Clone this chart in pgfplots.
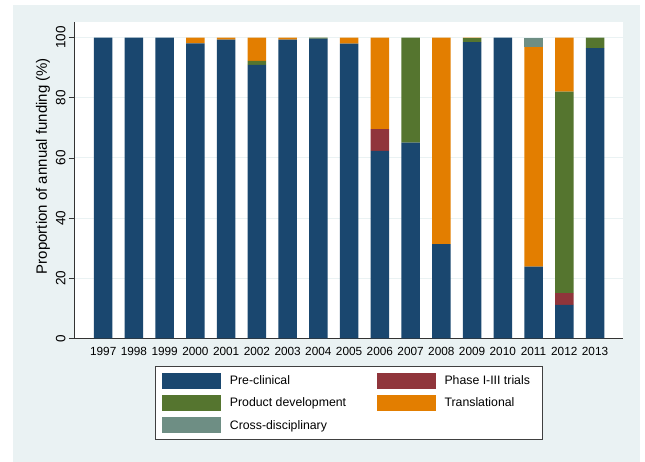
\documentclass[border=0pt]{standalone}
\usepackage{fontspec}
\setmainfont{Liberation Sans}
\usepackage{pgfplots}
\pgfplotsset{compat=1.18}
\usepackage{pgfplotstable}

% Stata s2color palette
\definecolor{stnavy}{RGB}{26,71,111}
\definecolor{stmaroon}{RGB}{144,53,59}
\definecolor{stgreen}{RGB}{85,117,47}
\definecolor{storange}{RGB}{227,126,0}
\definecolor{stteal}{RGB}{110,142,132}
\definecolor{stbg}{RGB}{234,242,243}

% year index, then share of funding by research type (%)
\pgfplotstableread{
idx pre   phase prod  trans cross
0   100   0     0     0     0
1   100   0     0     0     0
2   100   0     0     0     0
3   98.1  0     0     1.9   0
4   99.3  0     0     0.7   0
5   90.9  0     1.4   7.7   0
6   99.3  0     0     0.7   0
7   99.7  0     0.3   0     0
8   98.0  0     0     2.0   0
9   62.3  7.3   0     30.4  0
10  65.1  0     34.9  0     0
11  31.3  0     0     68.7  0
12  98.5  0     1.3   0.2   0
13  100   0     0     0     0
14  23.8  0     0     73.0  3.2
15  11.1  3.9   67.0  18.0  0
16  96.5  0     3.5   0     0
}\funding

\pgfplotsset{
  swatch/.style={fill=#1, draw=none,
    legend image code/.code={\fill[#1] (0pt,-7.85pt) rectangle (59pt,7.85pt);}},
}

\begin{document}
\begin{tikzpicture}
\path[use as bounding box] (0,0) rectangle (645pt,462pt);
\fill[stbg] (13pt,0pt) rectangle (640pt,457pt);
\begin{axis}[
  at={(74pt,123.7pt)}, anchor=south west,
  scale only axis, width=549.3pt, height=316.6pt,
  ybar stacked, bar width=18.5pt,
  xmin=-0.95, xmax=16.92, ymin=0, ymax=105.3,
  xtick={0,...,16},
  xticklabels={1997,1998,1999,2000,2001,2002,2003,2004,2005,2006,2007,2008,2009,2010,2011,2012,2013},
  ytick={0,20,...,100},
  axis x line*=bottom, axis y line*=left,
  axis line style={-, draw=black!80, line width=0.7pt},
  tick align=outside, major tick length=5pt,
  xtick style={draw=none},
  ytick style={draw=black!80, line width=0.6pt},
  ymajorgrids, grid style={draw=stbg, line width=0.8pt},
  axis background/.style={fill=white},
  /pgf/number format/assume math mode=true,
  xticklabel style={font=\fontsize{11.8}{13}\selectfont},
  yticklabel style={font=\fontsize{13.5}{15}\selectfont, rotate=90, anchor=south},
  every axis y label/.style={at={(axis description cs:-0.0564,0.544)},
    rotate=90, anchor=center, font=\fontsize{15}{17}\selectfont},
  ylabel={Proportion of annual funding (\%)},
  legend columns=2,
  legend cell align=left,
  legend style={at={(axis description cs:0.1475,-0.0875)}, anchor=north west,
    draw=black!75, line width=0.6pt, fill=white,
    inner xsep=6.6pt, inner ysep=6.6pt, row sep=6.6pt,
    font=\fontsize{12.3}{14}\selectfont,
    nodes={inner sep=0pt},
    /tikz/every odd column/.append style={column sep=9pt},
    /tikz/every even column/.append style={column sep=0pt}},
]
\addplot[swatch=stnavy] table[x=idx, y=pre] {\funding};
\addplot[swatch=stmaroon] table[x=idx, y=phase] {\funding};
\addplot[swatch=stgreen] table[x=idx, y=prod] {\funding};
\addplot[swatch=storange] table[x=idx, y=trans] {\funding};
\addplot[swatch=stteal] table[x=idx, y=cross] {\funding};
\legend{\makebox[146.6pt][l]{Pre-clinical}, Phase I-III trials\hspace*{5.5pt},
  \makebox[146.6pt][l]{Product development}, Translational, Cross-disciplinary}
\end{axis}
\end{tikzpicture}
\end{document}
